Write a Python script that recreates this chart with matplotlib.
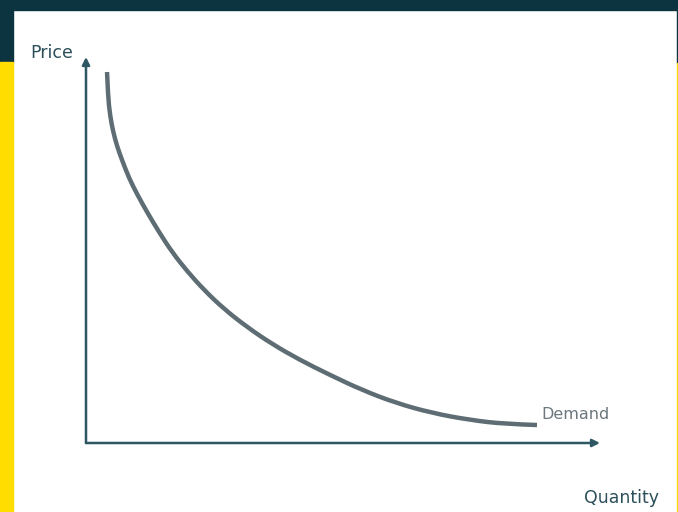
import matplotlib
matplotlib.use("Agg")
import matplotlib.pyplot as plt
from matplotlib.patches import Rectangle, PathPatch
from matplotlib.path import Path

# Demand curve (quantity, price) in axis units (0-100)
quantity = [4.09, 4.28, 4.67, 5.25, 6.03, 7.00, 8.37, 9.92, 11.87, 14.20, 16.73, 19.65,
            22.96, 26.85, 31.32, 36.19, 41.63, 47.47, 53.70, 60.31, 67.32, 74.71, 81.52, 87.74]
price = [96.11, 89.90, 84.97, 80.83, 76.94, 73.32, 68.65, 64.51, 59.84, 54.66, 49.48, 44.56,
         39.64, 34.72, 30.05, 25.65, 21.50, 17.62, 13.73, 10.36, 7.77, 5.96, 4.92, 4.66]
x_label = "Quantity"
y_label = "Price"
curve_label = "Demand"

W, H = 678, 512
fig = plt.figure(figsize=(W / 100, H / 100), dpi=100)
fig.patch.set_facecolor("white")

dark = "#0b3440"
yellow = "#ffdd00"

def px_rect(x0, y0, w, h, color):
    fig.patches.append(Rectangle((x0 / W, 1 - (y0 + h) / H), w / W, h / H,
                                 transform=fig.transFigure, color=color, zorder=0))

px_rect(0, 0, W, 10, dark)
px_rect(0, 0, 13, 62, dark)
px_rect(0, 62, 13, H - 62, yellow)
px_rect(677, 0, 1, 63, dark)
px_rect(677, 63, 1, H - 63, yellow)

ox, oy = 86, 443
xt, yt = 600, 57
ax = fig.add_axes([ox / W, 1 - oy / H, (xt - ox) / W, (oy - yt) / H])
ax.set_xlim(0, 100)
ax.set_ylim(0, 100)
ax.axis("off")
ax.patch.set_alpha(0)

axis_color = "#2d5763"
ax.annotate("", xy=(100, 0), xytext=(0, 0),
            arrowprops=dict(arrowstyle="-|>", color=axis_color, lw=1.8,
                            mutation_scale=11, shrinkA=0, shrinkB=0),
            annotation_clip=False)
ax.annotate("", xy=(0, 100), xytext=(0, 0),
            arrowprops=dict(arrowstyle="-|>", color=axis_color, lw=1.8,
                            mutation_scale=11, shrinkA=0, shrinkB=0),
            annotation_clip=False)

# smooth path: quadratic Bezier segments through midpoints of the read points
pts = list(zip(quantity, price))
verts = [pts[0]]
codes = [Path.MOVETO]
for i in range(1, len(pts) - 1):
    mid = ((pts[i][0] + pts[i + 1][0]) / 2, (pts[i][1] + pts[i + 1][1]) / 2)
    if i == len(pts) - 2:
        mid = pts[-1]
    verts += [pts[i], mid]
    codes += [Path.CURVE3, Path.CURVE3]
ax.add_patch(PathPatch(Path(verts, codes), facecolor="none", edgecolor="#5e6d74",
                       lw=3.2, capstyle="butt", clip_on=False))

ax.text(quantity[-1] + 0.9, price[-1] + 2.6, curve_label, color="#6b777d",
        fontsize=11.5, family="DejaVu Sans", ha="left", va="center")

fig.text(30 / W, 1 - 53 / H, y_label, color="#2c4f5a", fontsize=12.5,
         family="DejaVu Sans", ha="left", va="center")
fig.text(659 / W, 1 - 498 / H, x_label, color="#2c4f5a", fontsize=12.5,
         family="DejaVu Sans", ha="right", va="center")

fig.savefig("out.png", dpi=100)
